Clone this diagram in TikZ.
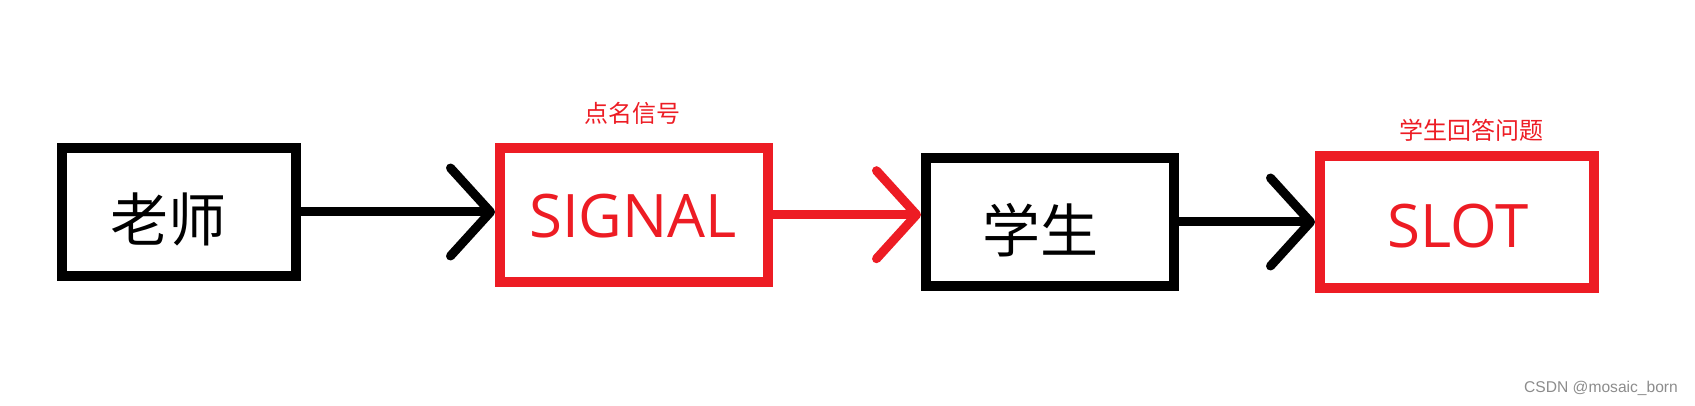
\documentclass[tikz,border=0pt]{standalone}
\usepackage{fontspec}
\newfontfamily\cjk{Noto Sans CJK SC}
\newfontfamily\lat{Open Sans}
\newfontfamily\wmfont{Liberation Sans}
\usetikzlibrary{arrows.meta}
\definecolor{rougepaint}{RGB}{237,28,36}
\tikzset{
  boite/.style={draw, line width=10pt, inner sep=0pt},
  fleche/.style={line width=9pt, -{Straight Barb[length=40pt, width=88pt, round]}},
  gros/.style={font=\cjk\fontsize{58}{58}\selectfont, inner sep=0pt},
  rouge/.style={font=\lat\fontsize{60}{60}\selectfont, text=rougepaint, inner sep=0pt},
  petit/.style={font=\cjk\fontsize{24}{24}\selectfont, text=rougepaint, inner sep=0pt}
}
\begin{document}
\begin{tikzpicture}[x=1pt, y=-1pt]
      \useasboundingbox (0, 0) rectangle (1695, 406) ;
    %--- Boites
      \node[boite, minimum width=234pt, minimum height=127pt] (prof) at (178.7, 212) {} ;
      \node[boite, draw=rougepaint, minimum width=268pt, minimum height=134pt] (signal) at (634, 214.7) {} ;
      \node[boite, minimum width=248pt, minimum height=127pt] (eleve) at (1050, 222) {} ;
      \node[boite, draw=rougepaint, minimum width=274pt, minimum height=132pt] (slot) at (1457, 222) {} ;
    %--- Textes
      \node[gros] (prof-txt) at (168, 219) {老师} ;
      \node[rouge] (signal-txt) at (633, 216.5) {SIGNAL} ;
      \node[gros] (eleve-txt) at (1040, 230) {学生} ;
      \node[rouge] (slot-txt) at (1458, 226.5) {SLOT} ;
      \node[petit] (signal-lab) at (632.5, 113) {点名信号} ;
      \node[petit] (slot-lab) at (1471, 130.5) {学生回答问题} ;
    %--- Fleches
      \draw[fleche] (prof) -- (prof -| signal.west) ;
      \draw[fleche, rougepaint] (signal) -- (signal -| eleve.west) ;
      \draw[fleche] (eleve) -- (eleve -| slot.west) ;
    %--- Filigrane
      \node[anchor=west, inner sep=0pt, text=black!45, font=\wmfont\fontsize{15.6}{16}\selectfont] (wm) at (1524, 388) {CSDN @mosaic\_born} ;
  \end{tikzpicture}
\end{document}
